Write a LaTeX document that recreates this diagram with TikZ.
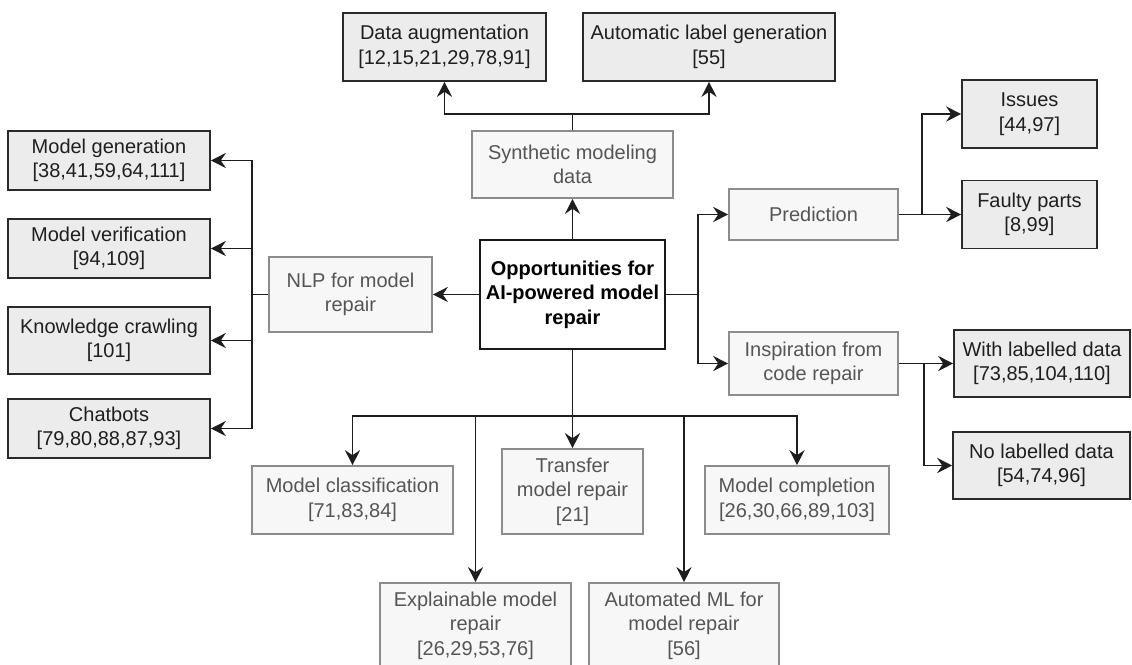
\documentclass[tikz,border=0pt]{standalone}
\usepackage{fontspec}
\setmainfont{Liberation Sans}
\usetikzlibrary{arrows.meta}
\definecolor{leaffill}{HTML}{EBECEB}
\definecolor{leafdraw}{HTML}{2A2A2A}
\definecolor{catfill}{HTML}{F7F7F7}
\definecolor{catdraw}{HTML}{8C8C8C}
\definecolor{cattext}{HTML}{555555}
\definecolor{linecol}{HTML}{1E1E1E}
\begin{document}
\begin{tikzpicture}[x=1pt,y=-1pt,
  every node/.style={font=\fontsize{20}{24.5}\selectfont, align=center, inner sep=0pt},
  leaf/.style={draw=leafdraw, fill=leaffill, line width=1.6pt, text=black!88},
  cat/.style={draw=catdraw, fill=catfill, line width=1.6pt, text=cattext},
  core/.style={draw=black!90, fill=white, line width=1.8pt, font=\fontsize{20}{24.5}\selectfont\bfseries},
  wire/.style={draw=linecol, line width=1.8pt},
  conn/.style={wire, -{Stealth[length=15pt,width=15pt,inset=5pt]}}
]
\fill[white] (0,0) rectangle (1132,664);
\useasboundingbox (0,0) rectangle (1132,664);

% centre
\node[core, minimum width=185pt, minimum height=109pt] (central) at (572.5,294.5)
  {Opportunities for\\AI-powered model\\repair};

% top branch
\node[cat, minimum width=201pt, minimum height=67pt] (synth) at (572.5,164.5) {Synthetic modeling\\data};
\node[leaf, minimum width=203pt, minimum height=68pt] (dataaug) at (444.5,47) {Data augmentation\\{}[12,15,21,29,78,91]};
\node[leaf, minimum width=252pt, minimum height=68pt] (autolabel) at (709,47) {Automatic label generation\\{}[55]};

% left branch
\node[cat, minimum width=163pt, minimum height=75pt] (nlp) at (350.5,294.5) {NLP for model\\repair};
\node[leaf, minimum width=202pt, minimum height=59pt] (mgen) at (109,160.5) {Model generation\\{}[38,41,59,64,111]};
\node[leaf, minimum width=202pt, minimum height=59pt] (mver) at (109,248.5) {Model verification\\{}[94,109]};
\node[leaf, minimum width=202pt, minimum height=67pt] (know) at (109,340.5) {Knowledge crawling\\{}[101]};
\node[leaf, minimum width=202pt, minimum height=59pt] (chat) at (109,428.5) {Chatbots\\{}[79,80,88,87,93]};

% right branch
\node[cat, minimum width=169pt, minimum height=51pt] (pred) at (813.5,214.5) {Prediction};
\node[cat, minimum width=169pt, minimum height=63pt] (insp) at (813.5,363.5) {Inspiration from\\code repair};
\node[leaf, minimum width=135pt, minimum height=68pt] (issues) at (1029.5,114) {Issues\\{}[44,97]};
\node[leaf, minimum width=135pt, minimum height=68pt] (faulty) at (1029.5,214.5) {Faulty parts\\{}[8,99]};
\node[leaf, minimum width=176pt, minimum height=67pt] (withl) at (1042,363.5) {With labelled data\\{}[73,85,104,110]};
\node[leaf, minimum width=177pt, minimum height=67pt] (nol) at (1041.5,465.5) {No labelled data\\{}[54,74,96]};

% bottom branch
\node[cat, minimum width=201pt, minimum height=68pt] (mclass) at (352.5,500) {Model classification\\{}[71,83,84]};
\node[cat, minimum width=141pt, minimum height=85pt] (transfer) at (572.5,491.5) {Transfer\\model repair\\{}[21]};
\node[cat, minimum width=184pt, minimum height=68pt] (mcomp) at (797,500) {Model completion\\{}[26,30,66,89,103]};
\node[cat, minimum width=191pt, minimum height=85pt] (explain) at (475.5,625.5) {Explainable model\\repair\\{}[26,29,53,76]};
\node[cat, minimum width=190pt, minimum height=85pt] (automl) at (684,625.5) {Automated ML for\\model repair\\{}[56]};

% junction points
\coordinate (tj) at (572.5,114);
\coordinate (lj) at (252,294.5);
\coordinate (rj) at (698,294.5);
\coordinate (pj) at (922,214.5);
\coordinate (ij) at (924,363.5);
\coordinate (bj) at (572.5,416);

% top connectors
\draw[conn] (central.north) -- (synth.south);
\draw[wire] (synth.north) -- (tj);
\draw[conn] (tj) -| (dataaug.south);
\draw[conn] (tj) -| (autolabel.south);

% left connectors
\draw[conn] (central.west) -- (nlp.east);
\draw[wire] (nlp.west) -- (lj);
\draw[conn] (lj) |- (mgen.east);
\draw[conn] (lj) |- (mver.east);
\draw[conn] (lj) |- (know.east);
\draw[conn] (lj) |- (chat.east);

% right connectors
\draw[wire] (central.east) -- (rj);
\draw[conn] (rj) |- (pred.west);
\draw[conn] (rj) |- (insp.west);
\draw[wire] (pred.east) -- (pj);
\draw[conn] (pj) |- (issues.west);
\draw[conn] (pj) |- (faulty.west);
\draw[wire] (insp.east) -- (ij);
\draw[conn] (ij) |- (withl.west);
\draw[conn] (ij) |- (nol.west);

% bottom connectors
\draw[wire] (central.south) -- (bj);
\draw[conn] (bj) -| (mclass.north);
\draw[conn] (bj) -| (explain.north);
\draw[conn] (bj) -- (transfer.north);
\draw[conn] (bj) -| (automl.north);
\draw[conn] (bj) -| (mcomp.north);
\end{tikzpicture}
\end{document}
